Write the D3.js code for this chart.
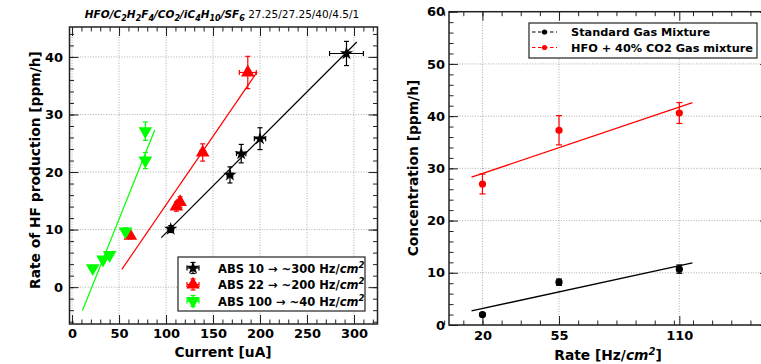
<!DOCTYPE html>
<html>
<head>
<meta charset="utf-8">
<script src="https://cdn.jsdelivr.net/npm/d3@7"></script>
<style>
  body { margin: 0; background: #fff; }
  svg { font-family: "DejaVu Sans", sans-serif; }
</style>
</head>
<body>
<svg id="chart" width="761" height="364"></svg>
<script>
// ---- left panel data: HF production vs current ----
var abs10Current = [105, 168, 180, 200, 292];
var abs10Rate = [10.1, 19.5, 23.2, 25.8, 40.6];
var abs10CurErr = [3, 3, 5, 6, 18];
var abs10RateErr = [0.6, 1.4, 1.6, 1.9, 2.1];

var abs22Current = [62, 111, 115, 139, 187];
var abs22Rate = [8.9, 14.0, 14.8, 23.4, 37.3];
var abs22CurErr = [2, 2, 2, 3, 9];
var abs22RateErr = [0.5, 0.8, 0.9, 1.5, 2.8];

var abs100Current = [22, 33, 40, 57, 78, 78];
var abs100Rate = [3.3, 4.8, 5.6, 9.7, 22.0, 27.1];
var abs100CurErr = [1, 1, 1, 1, 1, 1];
var abs100RateErr = [0.4, 0.5, 0.5, 0.6, 1.4, 1.6];

// fit line end points [current, rate]
var fit10 = [[95, 8.6], [303, 42.6]];
var fit22 = [[53, 3.1], [197, 37.4]];
var fit100 = [[11, -4.1], [88, 27.3]];

var leftXTicks = [0, 50, 100, 150, 200, 250, 300];
var leftYTicks = [0, 10, 20, 30, 40];

// ---- right panel data: concentration vs rate ----
var rates = [20, 55, 110];
var stdConc = [2.0, 8.2, 10.7];
var stdErr = [0.3, 0.6, 0.8];
var hfoConc = [27.0, 37.3, 40.6];
var hfoErr = [1.9, 2.8, 2.0];
var fitStd = [[15, 2.7], [116, 11.9]];
var fitHfo = [[15, 28.3], [116, 42.6]];

var rightXTicks = [20, 55, 110];
var rightYTicks = [0, 10, 20, 30, 40, 50, 60];

var svg = d3.select("#chart");

function zip(xs, ys, xe, ye) {
    return xs.map(function(d, i) {
        return {x: d, y: ys[i], xe: xe ? xe[i] : 0, ye: ye ? ye[i] : 0};
    });
}

// draws frame, grid and ticks on all four sides
function drawFrame(x, y, xMajor, xMinor, yMajor, yMinor, padX, padY) {
    var x0 = x.range()[0], x1 = x.range()[1];
    var y0 = y.range()[0], y1 = y.range()[1];
    var g = svg.append("g");

    var grid = g.append("g").attr("stroke", "#999").attr("stroke-width", 0.8)
        .attr("stroke-dasharray", "1,1.6");
    xMajor.forEach(function(v) {
        grid.append("line").attr("x1", x(v)).attr("x2", x(v)).attr("y1", y0).attr("y2", y1);
    });
    yMajor.forEach(function(v) {
        grid.append("line").attr("x1", x0).attr("x2", x1).attr("y1", y(v)).attr("y2", y(v));
    });

    function put(axis, tx, ty, labels) {
        var a = g.append("g").attr("transform", "translate(" + tx + "," + ty + ")").call(axis);
        a.select(".domain").remove();
        a.selectAll("line").attr("stroke", "#222").attr("stroke-width", 1);
        if (!labels) a.selectAll("text").remove();
        a.attr("font-family", "DejaVu Sans").attr("font-size", 13).attr("font-weight", "bold");
        a.selectAll("text").attr("fill", "#000");
        return a;
    }
    put(d3.axisBottom(x).tickValues(xMajor).tickSize(-9).tickPadding(padX).tickFormat(d3.format("d")), 0, y0, true);
    put(d3.axisBottom(x).tickValues(xMinor).tickSize(-4.5), 0, y0, false);
    put(d3.axisTop(x).tickValues(xMajor).tickSize(-9), 0, y1, false);
    put(d3.axisTop(x).tickValues(xMinor).tickSize(-4.5), 0, y1, false);
    put(d3.axisLeft(y).tickValues(yMajor).tickSize(-9).tickPadding(padY).tickFormat(d3.format("d")), x0, 0, true);
    put(d3.axisLeft(y).tickValues(yMinor).tickSize(-4.5), x0, 0, false);
    put(d3.axisRight(y).tickValues(yMajor).tickSize(-9), x1, 0, false);
    put(d3.axisRight(y).tickValues(yMinor).tickSize(-4.5), x1, 0, false);

    g.append("rect").attr("x", x0).attr("y", y1).attr("width", x1 - x0).attr("height", y0 - y1)
        .attr("fill", "none").attr("stroke", "#222").attr("stroke-width", 1.5);
    return g;
}

function errorBars(g, pts, x, y, color, cap) {
    var eb = g.append("g").attr("stroke", color).attr("stroke-width", 1.2);
    pts.forEach(function(p) {
        if (p.ye > 0) {
            eb.append("line").attr("x1", x(p.x)).attr("x2", x(p.x)).attr("y1", y(p.y - p.ye)).attr("y2", y(p.y + p.ye));
            [p.y - p.ye, p.y + p.ye].forEach(function(v) {
                eb.append("line").attr("x1", x(p.x) - cap).attr("x2", x(p.x) + cap).attr("y1", y(v)).attr("y2", y(v));
            });
        }
        if (p.xe > 0) {
            eb.append("line").attr("x1", x(p.x - p.xe)).attr("x2", x(p.x + p.xe)).attr("y1", y(p.y)).attr("y2", y(p.y));
            [p.x - p.xe, p.x + p.xe].forEach(function(v) {
                eb.append("line").attr("x1", x(v)).attr("x2", x(v)).attr("y1", y(p.y) - cap).attr("y2", y(p.y) + cap);
            });
        }
    });
}

function fitLine(g, ends, x, y, color, width) {
    g.append("path").datum(ends)
        .attr("d", d3.line().x(function(d) { return x(d[0]); }).y(function(d) { return y(d[1]); }))
        .attr("fill", "none").attr("stroke", color).attr("stroke-width", width);
}

// ================= left panel =================
var xL = d3.scaleLinear().domain([-2.7, 325]).range([69.5, 377.5]);
var yL = d3.scaleLinear().domain([-6.4, 45.2]).range([324, 27]);

var gL = drawFrame(xL, yL, leftXTicks, d3.range(0, 330, 10), leftYTicks, d3.range(-6, 46, 2), 5, 6.5);

var series = [
    {pts: zip(abs10Current, abs10Rate, abs10CurErr, abs10RateErr), fit: fit10, color: "#000",
     sym: d3.symbolStar, size: 55, rot: 0, label: "ABS 10 \u2192 ~300 Hz/"},
    {pts: zip(abs22Current, abs22Rate, abs22CurErr, abs22RateErr), fit: fit22, color: "#ff0000",
     sym: d3.symbolTriangle, size: 80, rot: 0, label: "ABS 22 \u2192 ~200 Hz/"},
    {pts: zip(abs100Current, abs100Rate, abs100CurErr, abs100RateErr), fit: fit100, color: "#00ff00",
     sym: d3.symbolTriangle, size: 80, rot: 180, label: "ABS 100 \u2192 ~40 Hz/"}
];

series.forEach(function(s) {
    fitLine(gL, s.fit, xL, yL, s.color, 1.2);
});
series.forEach(function(s) {
    errorBars(gL, s.pts, xL, yL, s.color, 2.5);
    gL.append("g").selectAll("path").data(s.pts).enter().append("path")
        .attr("d", d3.symbol().type(s.sym).size(s.size))
        .attr("transform", function(d) {
            return "translate(" + xL(d.x) + "," + yL(d.y) + ") rotate(" + s.rot + ")";
        })
        .attr("fill", s.color);
});

// title
var title = svg.append("text").attr("x", 222).attr("y", 18).attr("text-anchor", "middle")
    .attr("font-size", 10.5).attr("fill", "#000");
var titleParts = [["HFO/C", 0], ["2", 1], ["H", 0], ["2", 1], ["F", 0], ["4", 1], ["/CO", 0], ["2", 1],
    ["/iC", 0], ["4", 1], ["H", 0], ["10", 1], ["/SF", 0], ["6", 1]];
var shift = 0;
titleParts.forEach(function(p) {
    var dy = p[1] ? 3 - shift : -shift;
    shift += dy;
    title.append("tspan").attr("dy", dy).attr("font-weight", "bold").attr("font-style", "italic")
        .attr("font-size", p[1] ? 8 : 10.5).text(p[0]);
});
title.append("tspan").attr("dy", -shift).text(" 27.25/27.25/40/4.5/1");

// left legend
var legL = svg.append("g");
legL.append("rect").attr("x", 178).attr("y", 257).attr("width", 187).attr("height", 54)
    .attr("fill", "#fff").attr("stroke", "#222").attr("stroke-width", 1.2);
series.forEach(function(s, i) {
    var cy = 268 + i * 16.5, cx = 193;
    var lg = legL.append("g").attr("stroke", s.color).attr("stroke-width", 1.2);
    lg.append("line").attr("x1", cx - 6).attr("x2", cx + 6).attr("y1", cy).attr("y2", cy);
    lg.append("line").attr("x1", cx).attr("x2", cx).attr("y1", cy - 5.5).attr("y2", cy + 5.5);
    [-6, 6].forEach(function(o) {
        lg.append("line").attr("x1", cx + o).attr("x2", cx + o).attr("y1", cy - 2.5).attr("y2", cy + 2.5);
        lg.append("line").attr("y1", cy + o * 5.5 / 6).attr("y2", cy + o * 5.5 / 6).attr("x1", cx - 2.5).attr("x2", cx + 2.5);
    });
    legL.append("path").attr("d", d3.symbol().type(s.sym).size(s.size))
        .attr("transform", "translate(" + cx + "," + cy + ") rotate(" + s.rot + ")").attr("fill", s.color);
    var t = legL.append("text").attr("x", 218).attr("y", cy + 4.5).attr("font-size", 11.5)
        .attr("font-weight", "bold").text(s.label);
    t.append("tspan").attr("font-style", "italic").text("cm");
    t.append("tspan").attr("dy", -5).attr("font-size", 8.5).attr("font-style", "italic").text("2");
});

// left axis labels
svg.append("text").attr("x", 223).attr("y", 357).attr("text-anchor", "middle")
    .attr("font-size", 13.8).attr("font-weight", "bold").text("Current [uA]");
svg.append("text").attr("transform", "translate(40,170) rotate(-90)").attr("text-anchor", "middle")
    .attr("font-size", 13.8).attr("font-weight", "bold").text("Rate of HF production [ppm/h]");

// ================= right panel =================
var xR = d3.scaleLinear().domain([4.7, 151]).range([449, 769]);
var yR = d3.scaleLinear().domain([0, 60]).range([325, 11.7]);

var gR = drawFrame(xR, yR, rightXTicks, d3.range(2.5, 152, 8.75), rightYTicks, d3.range(0, 61, 2), 6, 4);

var rSeries = [
    {pts: zip(rates, stdConc, null, stdErr), fit: fitStd, color: "#000", label: "Standard Gas Mixture"},
    {pts: zip(rates, hfoConc, null, hfoErr), fit: fitHfo, color: "#ff0000", label: "HFO + 40% CO2 Gas mixture"}
];
rSeries.forEach(function(s) {
    fitLine(gR, s.fit, xR, yR, s.color, 1.3);
    errorBars(gR, s.pts, xR, yR, s.color, 3);
    gR.append("g").selectAll("circle").data(s.pts).enter().append("circle")
        .attr("cx", function(d) { return xR(d.x); })
        .attr("cy", function(d) { return yR(d.y); })
        .attr("r", 3.6).attr("fill", s.color);
});

// right legend
var legR = svg.append("g");
legR.append("rect").attr("x", 529).attr("y", 23).attr("width", 228).attr("height", 35)
    .attr("fill", "#fff").attr("stroke", "#222").attr("stroke-width", 1.2);
rSeries.forEach(function(s, i) {
    var cy = 32 + i * 15.5;
    legR.append("line").attr("x1", 532).attr("x2", 557).attr("y1", cy).attr("y2", cy)
        .attr("stroke", s.color).attr("stroke-width", 1.2).attr("stroke-dasharray", "3.5,2.5");
    legR.append("circle").attr("cx", 544.5).attr("cy", cy).attr("r", 2.6).attr("fill", s.color);
    legR.append("text").attr("x", 571).attr("y", cy + 4.3).attr("font-size", 11.3)
        .attr("font-weight", "bold").text(s.label);
});

// right axis labels
var rl = svg.append("text").attr("x", 608).attr("y", 360).attr("text-anchor", "middle")
    .attr("font-size", 13.8).attr("font-weight", "bold").text("Rate [Hz/");
rl.append("tspan").attr("font-style", "italic").text("cm");
rl.append("tspan").attr("dy", -5.5).attr("font-size", 10).attr("font-style", "italic").text("2");
rl.append("tspan").attr("dy", 5.5).text("]");
svg.append("text").attr("transform", "translate(418,168) rotate(-90)").attr("text-anchor", "middle")
    .attr("font-size", 13.8).attr("font-weight", "bold").text("Concentration [ppm/h]");
</script>
</body>
</html>
